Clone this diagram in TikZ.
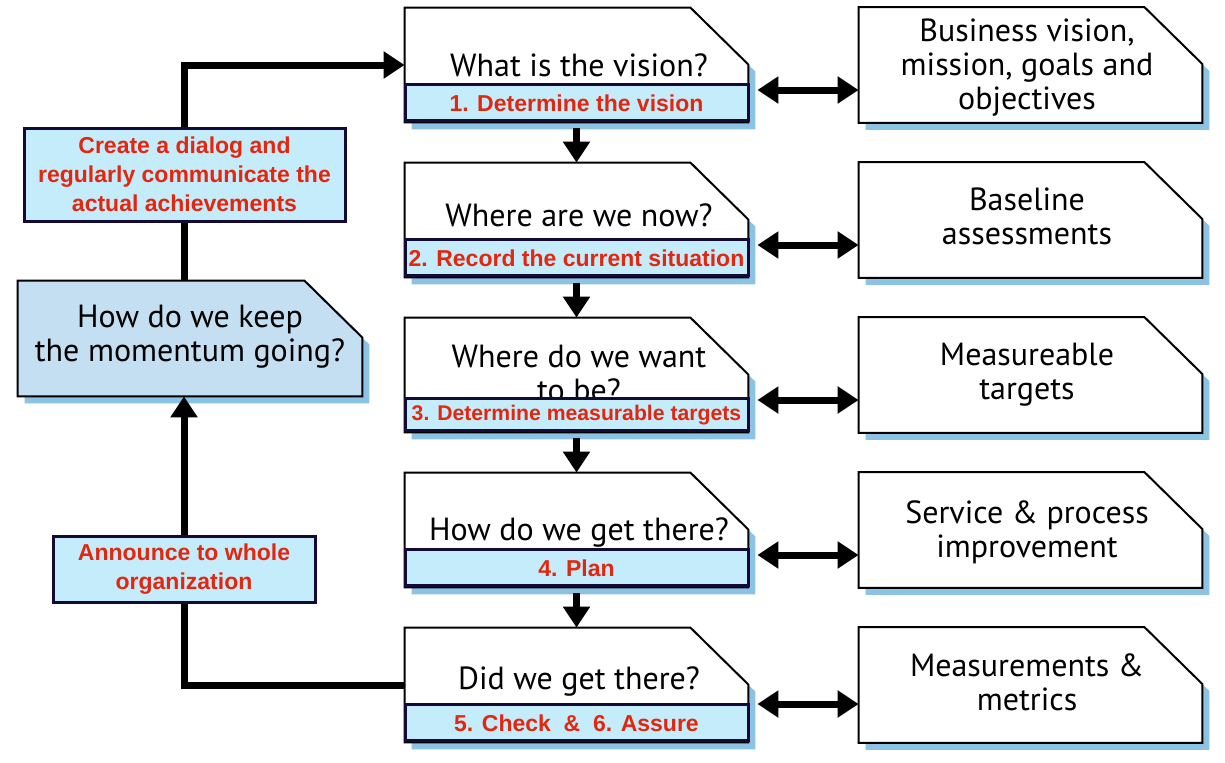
\documentclass[tikz,border=0pt]{standalone}
\usepackage{fontspec}
\setmainfont{PT Sans}
\newfontfamily\tagfont{Liberation Sans}
\usetikzlibrary{arrows.meta,positioning}

\definecolor{tagfill}{HTML}{C4ECFB}
\definecolor{tagline}{HTML}{140A36}
\definecolor{tagred}{HTML}{E3260E}
\definecolor{shadowblue}{HTML}{8CC2E4}
\definecolor{keepfill}{HTML}{C4DFF1}

% outline of a box with its upper right corner cut off
\newcommand\cutpath[1]{(#1.south west) -- (#1.north west) -- ([xshift=-29pt]#1.north east)
  -- ([yshift=-28.5pt]#1.north east) -- (#1.south east) -- cycle}

\tikzset{
  boxarea/.style={rectangle, inner sep=0pt},
  stepq/.style={boxarea, minimum width=171.5pt, minimum height=57pt},
  result/.style={boxarea, minimum width=171.5pt, minimum height=57.5pt},
  keepbox/.style={boxarea, minimum width=172pt, minimum height=57.5pt},
  qtext/.style={align=center, font=\fontsize{16}{17}\selectfont},
  tagtext/.style={align=center, text=tagred, font=\tagfont\bfseries\fontsize{11.5}{14.5}\selectfont},
  tagstrip/.style={tagtext, draw=tagline, line width=1.5pt, fill=tagfill, inner sep=0pt,
    minimum width=171.5pt, minimum height=18pt},
  notebox/.style={tagtext, draw=tagline, line width=1.5pt, fill=tagfill, inner sep=0pt},
  link/.style={line width=3.5pt}
}

\begin{document}
\begin{tikzpicture}[x=0.5pt,y=-0.5pt,>={Triangle[width=13pt,length=10.5pt]},node distance=77.5pt]
  \useasboundingbox (0,0) rectangle (1225,762);

  % the five steps
  \node[stepq] (q1) at (576.5,65) {};
  \node[stepq] (q2) [below of=q1] {};
  \node[stepq] (q3) [below of=q2] {};
  \node[stepq] (q4) [below of=q3] {};
  \node[stepq] (q5) [below of=q4] {};

  % results
  \node[result] (r1) [right of=q1, node distance=227pt] {};
  \node[result] (r2) [right of=q2, node distance=227pt] {};
  \node[result] (r3) [right of=q3, node distance=227pt] {};
  \node[result] (r4) [right of=q4, node distance=227pt] {};
  \node[result] (r5) [right of=q5, node distance=227pt] {};

  \node[keepbox] (keep) at (190,338.5) {};

  \foreach \n/\c in {q1/white,q2/white,q3/white,q4/white,q5/white,
                     r1/white,r2/white,r3/white,r4/white,r5/white,keep/keepfill} {
    \fill[shadowblue, transform canvas={shift={(3.5pt,-3.5pt)}}] \cutpath{\n};
    \draw[line width=1pt, fill=\c] \cutpath{\n};
  }

  \node[qtext] (w1) at (579,65)  {What is the vision?};
  \node[qtext] (w2) at (579,215) {Where are we now?};
  \node[qtext] (w3) at (579,373) {Where do we want\\to be?};
  \node[qtext] (w4) at (579,532) {How do we get there?};
  \node[qtext] (w5) at (579,681) {Did we get there?};

  \node[tagstrip] (t1) [above=0pt of q1.south] {1. Determine the vision};
  \node[tagstrip] (t2) [above=0pt of q2.south] {2. Record the current situation};
  \node[tagstrip, minimum height=16pt, font=\tagfont\bfseries\fontsize{10.6}{13}\selectfont]
    (t3) [above=0pt of q3.south] {3. Determine measurable targets};
  \node[tagstrip] (t4) [above=0pt of q4.south] {4. Plan};
  \node[tagstrip] (t5) [above=0pt of q5.south] {5. Check \ \& \ 6. Assure};

  \node[qtext] (o1) at (1027,68)  {Business vision,\\mission, goals and\\objectives};
  \node[qtext] (o2) at (1027,216) {Baseline\\assessments};
  \node[qtext] (o3) at (1027,375) {Measureable\\targets};
  \node[qtext] (o4) at (1027,532) {Service \& process\\improvement};
  \node[qtext] (o5) at (1027,682) {Measurements \&\\metrics};

  % feedback loop
  \node[qtext] (kt) at (190,337) {How do we keep\\the momentum going?};
  \node[notebox, minimum width=160.5pt, minimum height=46.5pt] (dialog) at (184.5,174.5)
    {Create a dialog and\\regularly communicate the\\actual achievements};
  \node[notebox, minimum width=131pt, minimum height=33pt] (announce) at (184,569)
    {Announce to whole\\organization};

  \path[link,->]
    ([yshift=-3pt]q1.south) edge (q2.north)
    ([yshift=-3pt]q2.south) edge (q3.north)
    ([yshift=-3pt]q3.south) edge (q4.north)
    ([yshift=-3pt]q4.south) edge (q5.north);
  \path[link,<->]
    ([shift={(4.5pt,-12.5pt)}]q1.east) edge ([yshift=-12.5pt]r1.west)
    ([shift={(4.5pt,-12.5pt)}]q2.east) edge ([yshift=-12.5pt]r2.west)
    ([shift={(4.5pt,-12.5pt)}]q3.east) edge ([yshift=-12.5pt]r3.west)
    ([shift={(4.5pt,-12.5pt)}]q4.east) edge ([yshift=-12.5pt]r4.west)
    ([shift={(4.5pt,-9.5pt)}]q5.east) edge ([yshift=-9.5pt]r5.west);

  \draw[link] (q5.west) -| (announce.south);
  \draw[link,->] (announce.north) -- (announce.north |- keep.south);
  \draw[link] (dialog.south |- keep.north) -- (dialog.south);
  \draw[link,->] (dialog.north) |- (q1.west);
\end{tikzpicture}
\end{document}
